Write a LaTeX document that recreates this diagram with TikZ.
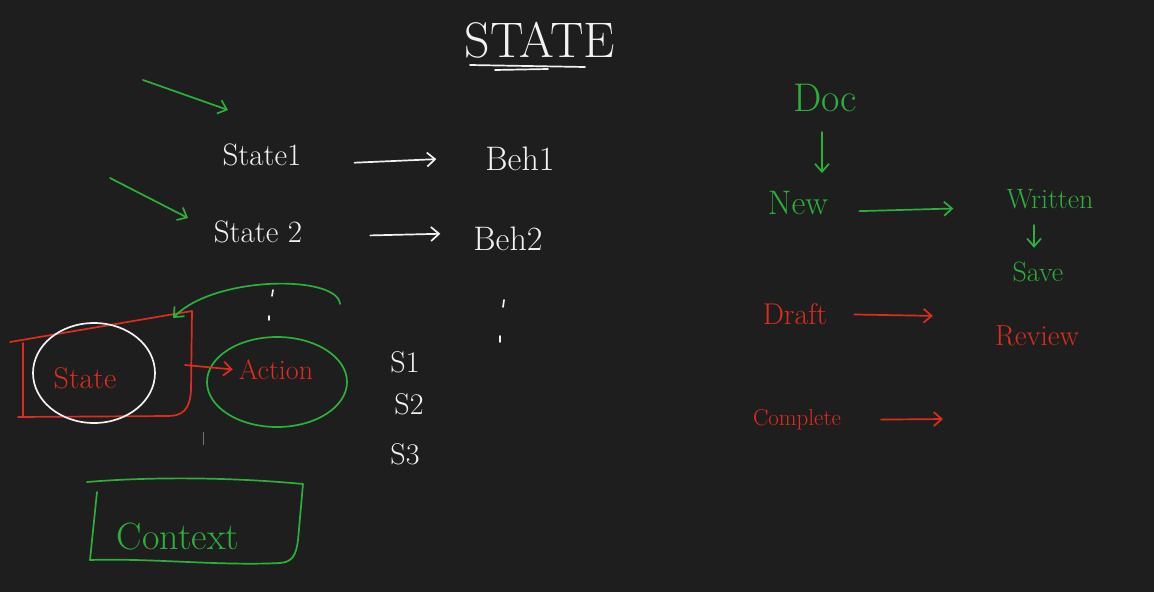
\documentclass[tikz,border=0pt]{standalone}
\usetikzlibrary{arrows.meta,shapes.geometric}
\definecolor{bg}{RGB}{30,30,30}
\definecolor{hgreen}{RGB}{45,175,60}
\definecolor{hred}{RGB}{220,45,30}
\definecolor{hwhite}{RGB}{242,242,242}
\newcommand\hfs[1]{\fontsize{#1}{#1}\selectfont}
\begin{document}
\begin{tikzpicture}[x=1pt,y=-1pt,
  ink/.style={line width=1.7pt, line cap=round, line join=round},
  wink/.style={ink, draw=hwhite},
  gink/.style={ink, draw=hgreen},
  rink/.style={ink, draw=hred},
  harrow/.style={-{Straight Barb[length=8pt,width=14pt,line width=1.7pt]}},
  lbl/.style={inner sep=0pt, anchor=center},
  wtxt/.style={lbl, text=hwhite},
  gtxt/.style={lbl, text=hgreen},
  rtxt/.style={lbl, text=hred}]
\fill[bg] (0,0) rectangle (1154,592);
\useasboundingbox (0,0) rectangle (1154,592);

% title
\node[wtxt, font=\hfs{50}] (title) at (540,40) {STATE};
\draw[wink] (470,65) -- (585,67);
\draw[wink] (495,70) -- (548,69);

% state -> behaviour rows
\node[wtxt, font=\hfs{31}] (st1) at (262,155) {State1};
\node[wtxt, font=\hfs{34}] (beh1) at (520,159) {Beh1};
\node[wtxt, font=\hfs{31}] (st2) at (258,232) {State 2};
\node[wtxt, font=\hfs{34}] (beh2) at (508,239) {Beh2};
\draw[wink, harrow, shorten <=53pt, shorten >=49pt] ([yshift=-10pt]st1.east) -- ([yshift=2pt]beh1.west);
\draw[wink, harrow, shorten <=68pt, shorten >=33pt] ([yshift=-5pt]st2.east) -- ([yshift=6pt]beh2.west);

% green pointers
\coordinate (p1a) at (143,80);
\coordinate (p1b) at (228,110);
\coordinate (p2a) at (110,178);
\coordinate (p2b) at (188,218);
\draw[gink, harrow] (p1a) -- (p1b);
\draw[gink, harrow] (p2a) -- (p2b);

% dots
\draw[wink] (273,290) -- (272,296);
\draw[wink] (269,316) -- (269,320);
\draw[wink] (504,300) -- (503,307);
\draw[wink] (500,336) -- (500,342);

% red box round the state circle
\draw[rink] (10,342) -- (192,311) -- (191,390) .. controls (190,410) and (182,416) .. (168,416) -- (18,417);
\draw[rink] (23,343) -- (23,416);
\coordinate (boxr) at (185,365);

% state circle
\node[draw=hwhite, line width=1.7pt, ellipse, minimum width=122pt, minimum height=100pt, inner sep=0pt] (stc) at (94,373) {};
\node[rtxt, font=\hfs{30}] (stl) at (85,378) {State};

% action circle
\node[draw=hgreen, line width=1.7pt, ellipse, minimum width=140pt, minimum height=90pt, inner sep=0pt] (actc) at (277,382) {};
\node[rtxt, font=\hfs{28}] (actl) at (276,370) {Action};
\draw[rink, harrow, shorten >=6pt] (boxr) -- (actl.west);

% green return arrow
\coordinate (ra) at (340,304);
\coordinate (rb) at (173,318);
\draw[gink, harrow] (ra) .. controls (338,275) and (215,275) .. (rb);

% stray mark
\draw[line width=1pt, draw=hwhite!40!bg] (203,432) -- (203,445);

% S list
\node[wtxt, font=\hfs{30}] (s1) at (405,362) {S1};
\node[wtxt, font=\hfs{30}] (s2) at (409,404) {S2};
\node[wtxt, font=\hfs{30}] (s3) at (405,454) {S3};

% context box
\draw[gink] (87,482) .. controls (160,476) and (240,478) .. (303,484) -- (298,540) .. controls (296,556) and (292,562) .. (280,563) .. controls (220,566) and (150,558) .. (90,560);
\draw[gink] (97,492) -- (90,560);
\node[gtxt, font=\hfs{38}] (ctx) at (178,537) {Context};

% right column
\node[gtxt, font=\hfs{40}] (doc) at (825,98) {Doc};
\node[gtxt, font=\hfs{34}] (new) at (798,203) {New};
\node[gtxt, font=\hfs{28}] (wri) at (1050,199) {Written};
\node[gtxt, font=\hfs{28}] (save) at (1038,272) {Save};
\draw[gink, harrow, shorten >=18pt] (doc.south) ++(-3,20) coordinate (da) (da) -- (new.north -| da);
\draw[gink, harrow, shorten <=31pt, shorten >=53pt] ([yshift=-9pt]new.east) -- ([yshift=-8pt]wri.west);
\draw[gink, harrow, shorten <=16pt, shorten >=14pt] (wri.south -| 1034,0) -- (save.north -| 1034,0);

\node[rtxt, font=\hfs{30}] (draft) at (795,314) {Draft};
\node[rtxt, font=\hfs{29}] (rev) at (1037,336) {Review};
\draw[rink, harrow, shorten <=27pt, shorten >=62pt] (draft.east) -- ([yshift=19pt]rev.west);

\node[rtxt, font=\hfs{23}] (comp) at (797,420) {Complete};
\coordinate (cend) at (943,419);
\draw[rink, harrow, shorten <=40pt] (comp.east) -- (cend);
\end{tikzpicture}
\end{document}
